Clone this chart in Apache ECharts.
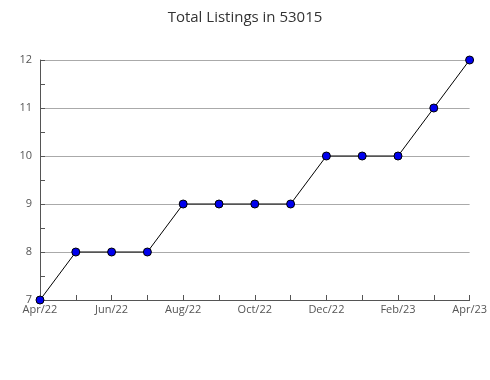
<!DOCTYPE html>
<html><head><meta charset="utf-8">
<script src="https://cdn.jsdelivr.net/npm/echarts@6/dist/echarts.min.js"></script>
<style>html,body{margin:0;padding:0;background:#fff}#c{width:490px;height:380px}</style>
</head><body><div id="c"></div>
<script>
var months = ['Apr/22','May/22','Jun/22','Jul/22','Aug/22','Sep/22','Oct/22','Nov/22','Dec/22','Jan/23','Feb/23','Mar/23','Apr/23'];
var listings = [7,8,8,8,9,9,9,9,10,10,10,11,12];
var titleText = 'Total Listings in 53015';
var chart = echarts.init(document.getElementById('c'));
chart.setOption({
  animation:false,
  title:{text:titleText,left:'center',top:5,textStyle:{fontFamily:'Open Sans',fontWeight:'normal',fontSize:15,color:'#333'}},
  grid:{left:40,right:20,top:60,bottom:80,containLabel:false},
  xAxis:{type:'category',data:months,boundaryGap:false,
    axisLine:{lineStyle:{color:'#555'}},
    axisTick:{inside:true,length:5,interval:0,lineStyle:{color:'#555'}},
    axisLabel:{interval:1,color:'#555',fontFamily:'Open Sans',fontSize:11,margin:4},
    splitLine:{show:false}},
  yAxis:[{type:'value',min:7,max:12,interval:0.5,
    axisLine:{show:true,lineStyle:{color:'#555'}},
    axisTick:{show:true,inside:true,length:5,lineStyle:{color:'#555'}},
    axisLabel:{color:'#555',fontFamily:'Open Sans',fontSize:11,margin:8,
      formatter:function(v){return Number.isInteger(v)?String(v):'';}},
    splitLine:{show:false}},
  {type:'value',min:7,max:12,interval:1,position:'left',
    axisLine:{show:false},axisTick:{show:false},axisLabel:{show:false},
    splitLine:{lineStyle:{color:'#aaa'}}}],
  series:[{type:'line',data:listings,symbol:'circle',symbolSize:8,z:3,
    lineStyle:{color:'#000',width:1},
    itemStyle:{color:'#0000ee',borderColor:'#000',borderWidth:1}}]
});
</script></body></html>
